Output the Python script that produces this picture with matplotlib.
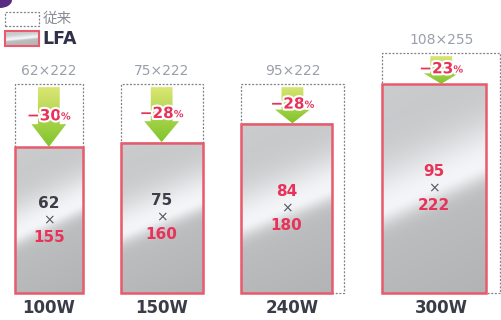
import numpy as np
import matplotlib.pyplot as plt
from matplotlib import patches
from matplotlib import patheffects


# values (mm)
wattages = ['100W', '150W', '240W', '300W']
conv_w = [62, 75, 95, 108]
conv_h = [222, 222, 222, 255]
lfa_w = [62, 75, 84, 95]
lfa_h = [155, 160, 180, 222]
reduction = [30, 28, 28, 23]

legend_labels = ['従来', 'LFA']

W, H = 501, 320
PX_X = 1.09     # pixels per mm across
PX_Y = 0.94     # pixels per mm up
BASE = 293      # pixel row of the box bottoms
FIRST = 13.8    # mm, left edge of first box
GAP = 35        # mm between boxes

RED = '#e8325a'
EDGE = '#e85a6c'
DARK = '#3c3d48'


def dx(px):
	return px / PX_X


def dy(py):
	return (BASE - py) / PX_Y


def metal(nx=60, ny=120):
	u = np.linspace(0, 1, nx)[None, :]
	v = np.linspace(0, 1, ny)[:, None]
	d = v - (0.40 + 0.22 * u)
	band = np.where(d > 0, np.exp(-(d / 0.22) ** 2), np.exp(-(d / 0.08) ** 2))
	base = 0.73 + 0.08 * v - 0.02 * u
	g = base + (0.97 - base) * band
	img = np.dstack([g * 0.985, g * 0.99, g * 1.0])
	return np.clip(img, 0, 1)


def lfa_box(ax, x, y, w, h, lw=1.8):
	ax.imshow(metal(), extent=[x, x + w, y, y + h], origin='lower',
			aspect='auto', interpolation='bilinear', zorder=4)
	ax.add_patch(patches.Rectangle((x, y), w, h, fill=False, ec=EDGE, lw=lw, zorder=5))


def dashed_box(ax, x, y, w, h):
	ax.add_patch(patches.Rectangle((x, y), w, h, fill=False, ec='#80838c', lw=0.9,
			ls=(0, (1.6, 1.3)), zorder=2))


def green_arrow(ax, cx, top, tip):
	head = 0.38 * (top - tip)
	sw, hw = 10, 16
	pts = [(cx - sw, top), (cx + sw, top), (cx + sw, tip + head), (cx + hw, tip + head),
		(cx, tip), (cx - hw, tip + head), (cx - sw, tip + head)]
	poly = patches.Polygon(pts, closed=True, fc='none', ec='none')
	ax.add_patch(poly)
	t = np.linspace(0, 1, 64)[:, None]
	top_c = np.array([0.86, 0.90, 0.45])
	bot_c = np.array([0.50, 0.77, 0.17])
	grad = (1 - t)[:, :, None] * bot_c + t[:, :, None] * top_c
	grad = np.repeat(grad, 4, axis=1)
	im = ax.imshow(grad, extent=[cx - hw, cx + hw, tip, top], origin='lower',
			aspect='auto', interpolation='bilinear', zorder=3)
	im.set_clip_path(poly)


fig = plt.figure(figsize=(W / 100, H / 100), dpi=100)
ax = fig.add_axes([0, 0, 1, 1])
ax.set_xlim(0, W / PX_X)
ax.set_ylim(dy(H), dy(0))
ax.axis('off')

stroke = [patheffects.withStroke(linewidth=3, foreground='white')]

left = FIRST
for i, watt in enumerate(wattages):
	cw, ch, lw_, lh = conv_w[i], conv_h[i], lfa_w[i], lfa_h[i]
	cx = left + cw / 2

	dashed_box(ax, left, 0, cw, ch)
	green_arrow(ax, cx, ch - 3, lh + 0.5)
	lfa_box(ax, left, 0, lw_, lh)

	# conventional size above
	ax.annotate(f'{cw}×{ch}', xy=(cx, ch), xytext=(0, 9.4), textcoords='offset points',
			ha='center', va='center', fontsize=10, color='#9aa0aa')

	# reduction label
	t = ax.text(cx - 4.5, (ch + lh) / 2, f'−{reduction[i]}', fontsize=11, fontweight='bold',
			color=RED, ha='center', va='center', path_effects=stroke, zorder=6)
	ax.annotate('%', xy=(1.0, 0.12), xycoords=t, ha='left', va='bottom', fontsize=7,
			fontweight='bold', color=RED, path_effects=stroke, zorder=6)

	# LFA size inside
	lx = left + lw_ / 2
	cy = lh / 2
	ax.text(lx, cy + 18, str(lw_), ha='center', va='center', fontsize=11, fontweight='bold',
			color=RED if lw_ != cw else DARK, zorder=6)
	ax.text(lx, cy, '×', ha='center', va='center', fontsize=10, color='#555763', zorder=6)
	ax.text(lx, cy - 18, str(lh), ha='center', va='center', fontsize=11, fontweight='bold',
			color=RED if lh != ch else DARK, zorder=6)

	# wattage
	ax.annotate(watt, xy=(cx, 0), xytext=(0, -10.8), textcoords='offset points',
			ha='center', va='center', fontsize=12, fontweight='bold', color='#3a3c48')

	left += cw + GAP

# legend
dashed_box(ax, dx(5), dy(26), dx(34), 14 / PX_Y)
lfa_box(ax, dx(5), dy(46), dx(34), 15 / PX_Y, lw=1.5)
ax.text(dx(43), dy(19), legend_labels[0], ha='left', va='center', fontsize=10.5,
		color='#8a8d96', family=['Noto Sans CJK JP', 'DejaVu Sans'])
ax.text(dx(42), dy(39), legend_labels[1], ha='left', va='center', fontsize=12.5,
		fontweight='bold', color='#2e3148')

# purple corner from the page
fig.patches.append(patches.Ellipse((0, 1), 24 / W, 16 / H, transform=fig.transFigure,
		fc='#5a2a82', ec='none'))

fig.savefig('out.png', dpi=100)
